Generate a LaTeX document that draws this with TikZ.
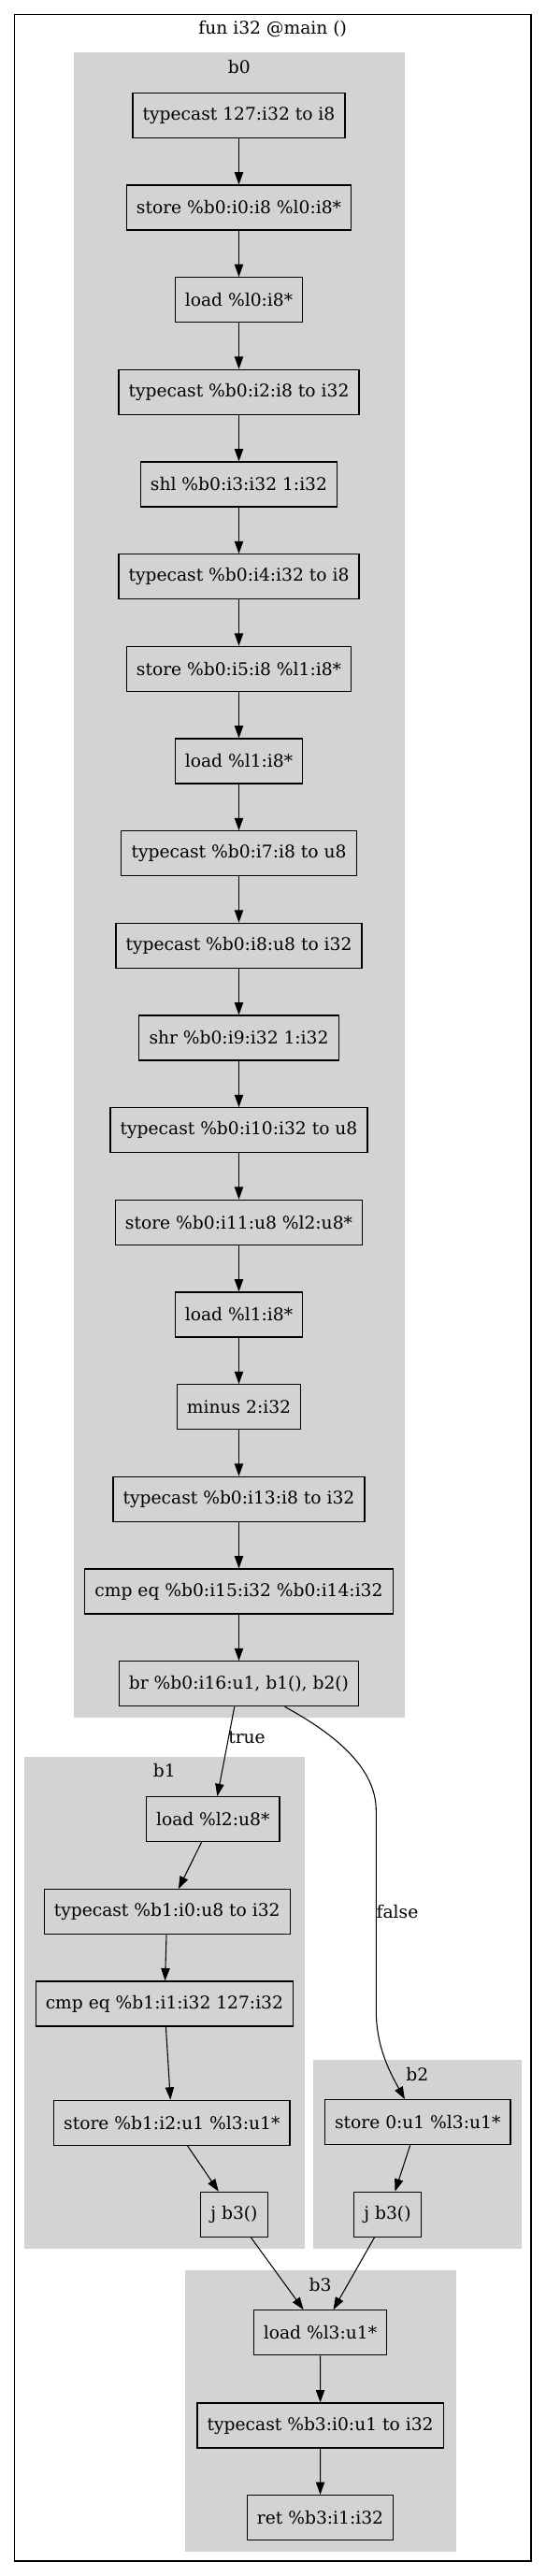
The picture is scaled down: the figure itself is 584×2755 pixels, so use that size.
\documentclass[tikz,border=0pt]{standalone}
\usepackage{fontspec}
\setmainfont{DejaVu Serif}
\usetikzlibrary{arrows.meta}
\definecolor{clgray}{HTML}{D3D3D3}
\begin{document}
\begin{tikzpicture}[x=0.75pt,y=-0.75pt,
  op/.style={draw=black,line width=0.9pt,rectangle,minimum height=36pt,minimum width=54pt,inner xsep=8pt,inner ysep=0pt,font=\fontsize{14}{16}\selectfont},
  lbl/.style={font=\fontsize{14}{16}\selectfont,inner sep=0pt},
  cl/.style={fill=clgray,draw=clgray,line width=0.5pt},
  flow/.style={line width=0.8pt,-{Triangle[length=10pt,width=7pt]}}]
\useasboundingbox (0,0) rectangle (584,2755);
% frame and clusters
\draw[black,line width=1pt] (15.3,15.3) rectangle (568,2739);
\node[lbl] (title) at (291.7,30.7) {fun i32 @main ()};
\filldraw[cl] (79.3,56) rectangle (432.3,1836);
\filldraw[cl] (26,1879.3) rectangle (325.7,2404.3);
\filldraw[cl] (335,2203.3) rectangle (557.7,2404.3);
\filldraw[cl] (198,2428.7) rectangle (487,2728.3);
\node[lbl] (lb0) at (255.8,72) {b0};
\node[lbl] (lb1) at (175.9,1893.5) {b1};
\node[lbl] (lb2) at (446.3,2218.3) {b2};
\node[lbl] (lb3) at (342.6,2443.5) {b3};
% b0
\node[op] (a0) at (255.5,123.3) {typecast 127:i32 to i8};
\node[op] (a1) at (255.5,222.0) {store \%b0:i0:i8 \%l0:i8*};
\node[op] (a2) at (255.5,320.6) {load \%l0:i8*};
\node[op] (a3) at (255.5,419.3) {typecast \%b0:i2:i8 to i32};
\node[op] (a4) at (255.5,518.0) {shl \%b0:i3:i32 1:i32};
\node[op] (a5) at (255.5,616.7) {typecast \%b0:i4:i32 to i8};
\node[op] (a6) at (255.5,715.3) {store \%b0:i5:i8 \%l1:i8*};
\node[op] (a7) at (255.5,814.0) {load \%l1:i8*};
\node[op] (a8) at (255.5,912.7) {typecast \%b0:i7:i8 to u8};
\node[op] (a9) at (255.5,1011.3) {typecast \%b0:i8:u8 to i32};
\node[op] (a10) at (255.5,1110.0) {shr \%b0:i9:i32 1:i32};
\node[op] (a11) at (255.5,1208.7) {typecast \%b0:i10:i32 to u8};
\node[op] (a12) at (255.5,1307.3) {store \%b0:i11:u8 \%l2:u8*};
\node[op] (a13) at (255.5,1406.0) {load \%l1:i8*};
\node[op] (a14) at (255.5,1504.7) {minus 2:i32};
\node[op] (a15) at (255.5,1603.3) {typecast \%b0:i13:i8 to i32};
\node[op] (a16) at (255.5,1702.0) {cmp eq \%b0:i15:i32 \%b0:i14:i32};
\node[op] (a17) at (255.5,1800.7) {br \%b0:i16:u1, b1(), b2()};
% b1
\node[op] (c0) at (227.7,1945.7) {load \%l2:u8*};
\node[op] (c1) at (178.7,2044.7) {typecast \%b1:i0:u8 to i32};
\node[op] (c2) at (175.9,2143.0) {cmp eq \%b1:i1:i32 127:i32};
\node[op] (c3) at (183.8,2270.2) {store \%b1:i2:u1 \%l3:u1*};
\node[op] (c4) at (250.5,2368.3) {j b3()};
% b2
\node[op] (d0) at (446.7,2269.7) {store 0:u1 \%l3:u1*};
\node[op] (d1) at (414.5,2368.3) {j b3()};
% b3
\node[op] (e0) at (342.5,2494.8) {load \%l3:u1*};
\node[op] (e1) at (342.6,2594.0) {typecast \%b3:i0:u1 to i32};
\node[op] (e2) at (342.5,2692.5) {ret \%b3:i1:i32};
% edges
\foreach \i in {0,...,16}{\pgfmathtruncatemacro{\j}{\i+1}\draw[flow] (a\i) -- (a\j);}
\draw[flow] (a17) -- (c0);
\node[lbl] (ltrue) at (264,1858) {true};
\draw[flow] ([xshift=36.75pt]a17.south) .. controls (372,1862) and (402.3,1898) .. (402.3,1936.7) -- (402.3,2150) .. controls (402.3,2190) and (418,2218) .. ([xshift=-10.3pt]d0.north);
\node[lbl] (lfalse) at (425,2044.3) {false};
\draw[flow] (c0) -- (c1);
\draw[flow] (c1) -- (c2);
\draw[flow] (c2) -- (c3);
\draw[flow] (c3) -- (c4);
\draw[flow] (d0) -- (d1);
\draw[flow] (c4) -- (e0);
\draw[flow] (d1) -- (e0);
\draw[flow] (e0) -- (e1);
\draw[flow] (e1) -- (e2);
\end{tikzpicture}
\end{document}
